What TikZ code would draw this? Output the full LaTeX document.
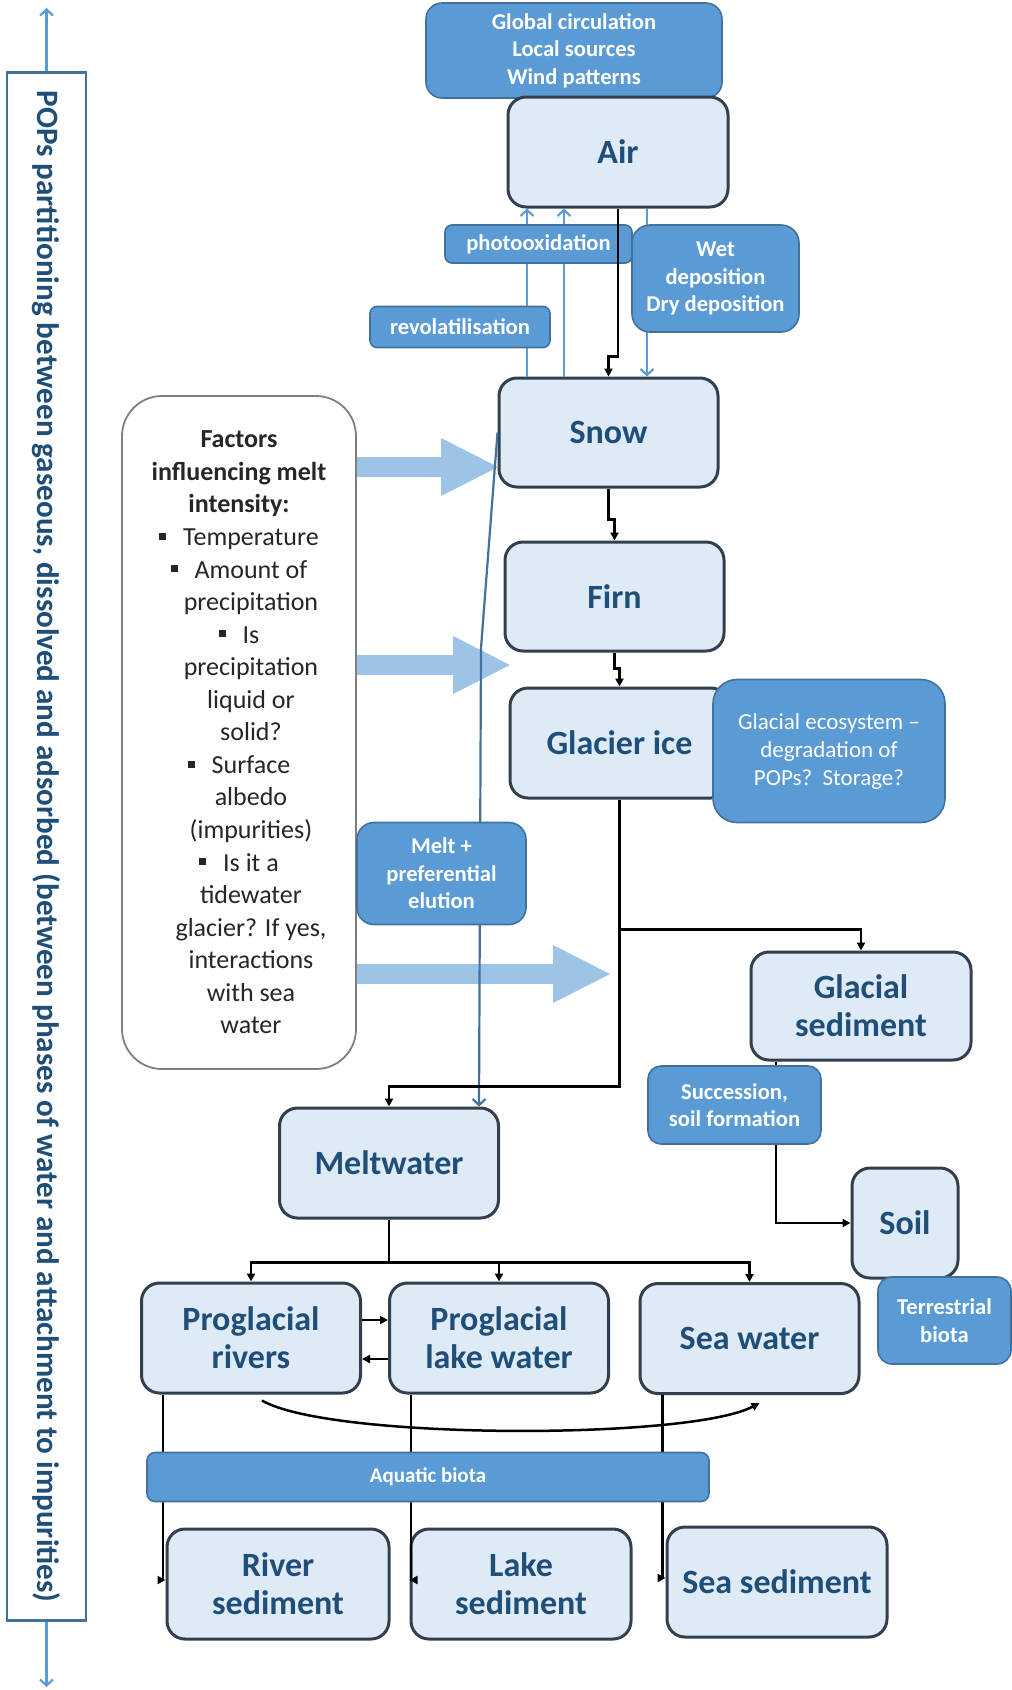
\documentclass[tikz,border=0pt]{standalone}
\usepackage{fontspec}
\setmainfont{Carlito}
\usetikzlibrary{arrows.meta}
\definecolor{stagefill}{HTML}{DEEBF7}
\definecolor{stageline}{HTML}{323F4F}
\definecolor{stagetext}{HTML}{1F4E79}
\definecolor{procfill}{HTML}{5B9BD5}
\definecolor{procline}{HTML}{41719C}
\definecolor{fatblue}{HTML}{9DC3E6}
\definecolor{factline}{HTML}{7F7F7F}
\definecolor{facttext}{HTML}{262626}
\newcommand{\sq}{\rule[0.22em]{0.27em}{0.27em}\hspace{0.65em}}
\newcommand{\cont}{\hphantom{\sq}}

\begin{document}
\begin{tikzpicture}[x=1pt, y=-1pt,
	stage/.style={draw=stageline, line width=3pt, fill=stagefill, rounded corners=18pt, text=stagetext, font=\bfseries\fontsize{34}{38}\selectfont, align=center, inner sep=0pt, minimum width=219pt, minimum height=109pt},
	proc/.style={draw=procline, line width=1.6pt, fill=procfill, rounded corners=14pt, text=white, font=\bfseries\fontsize{22.6}{27.5}\selectfont, align=center, inner sep=0pt},
	blk/.style={line width=2.5pt, -{Triangle[length=8pt,width=8pt]}},
	bluearr/.style={draw=procfill, line width=2.2pt, -{Straight Barb[length=6pt,width=13pt]}},
	meltarr/.style={draw=procline, line width=2.2pt, -{Straight Barb[length=6pt,width=13pt]}},
	fat/.style={draw=fatblue, line width=20pt, -{Triangle[length=57pt,width=58pt,line width=0pt]}}]
	\useasboundingbox (0,0) rectangle (1012,1690);

	% side bar
	\node[draw=procline, line width=2.5pt, fill=white, rotate=-90, minimum width=1548pt, minimum height=79pt, inner sep=0pt, text=stagetext, font=\bfseries\fontsize{31.1}{36}\selectfont] (sidebar) at (46.5,846.5) {POPs partitioning between gaseous, dissolved and adsorbed (between phases of water and attachment to impurities)};
	\coordinate (topend) at (46.5,8);
	\coordinate (botend) at (46.5,1687);
	\draw[bluearr] (sidebar.west) -- (topend);
	\draw[bluearr] (sidebar.east) -- (botend);

	% atmosphere
	\node[proc, rounded corners=16pt, minimum width=296pt, minimum height=95pt] (sources) at (574,50.5) {Global circulation\\Local sources\\Wind patterns};
	\node[stage, minimum width=220pt, minimum height=110pt] (air) at (618,152) {Air};
	\node[stage] (snow) at (608.5,432.5) {Snow};
	\draw[bluearr] ([xshift=-81.5pt]snow.north) -- ([xshift=-91pt]air.south);
	\draw[bluearr] ([xshift=-44.5pt]snow.north) -- ([xshift=-54pt]air.south);
	\draw[bluearr] ([xshift=29pt]air.south) -- ([xshift=38.5pt]snow.north);
	\node[proc, rounded corners=7pt, minimum width=187pt, minimum height=38pt] (photo) at (538.5,244) {photooxidation};
	\node[proc, rounded corners=7pt, minimum width=180pt, minimum height=41pt] (revol) at (460,327) {revolatilisation};
	\node[proc, rounded corners=18pt, minimum width=167pt, minimum height=107pt] (wetdep) at (715.5,278.5) {Wet\\deposition\\Dry deposition};
	\draw[blk] (air.south) -- ++(0,148) -| (snow.north);

	% glacier column
	\node[stage] (firn) at (614.5,596.5) {Firn};
	\node[stage, minimum height=110pt] (glacier) at (619.5,743) {Glacier ice};
	\node[proc, rounded corners=24pt, minimum width=232pt, minimum height=143pt, font=\mdseries\fontsize{23}{28}\selectfont] (ecosys) at (829,751) {Glacial ecosystem –\\degradation of\\POPs?~~Storage?};
	\draw[blk] (snow.south) -- ++(0,31) -| (firn.north);
	\draw[blk] (firn.south) -- ++(0,16) -| (glacier.north);

	% melt factors
	\coordinate (tipA) at (498,467);
	\coordinate (tipB) at (510,665);
	\coordinate (tipC) at (610,974);
	\node[draw=factline, line width=1.8pt, fill=white, rounded corners=40pt, minimum width=234pt, minimum height=673pt, inner sep=0pt, text=facttext, align=center, font=\fontsize{26}{32.56}\selectfont] (factors) at (239,732.5) {{\bfseries Factors}\\{\bfseries influencing melt}\\{\bfseries intensity:}\\\sq Temperature\\\sq Amount of\\\cont precipitation\\\sq Is\\\cont precipitation\\\cont liquid or\\\cont solid?\\\sq Surface\\\cont albedo\\\cont (impurities)\\\sq Is it a\\\cont tidewater\\\cont glacier? If yes,\\\cont interactions\\\cont with sea\\\cont water};
	\draw[fat] (factors.east |- tipA) -- (tipA);
	\draw[fat] (factors.east |- tipB) -- (tipB);
	\draw[fat] (factors.east |- tipC) -- (tipC);

	% meltwater
	\node[stage, minimum height=110pt] (mw) at (389,1163) {Meltwater};
	\coordinate (bend) at (481,648);
	\draw[meltarr] (snow.west) -- (bend) -- ([xshift=90pt]mw.north);
	\node[proc, rounded corners=17pt, minimum width=169pt, minimum height=102pt] (melt) at (441.5,873.5) {Melt +\\preferential\\elution};
	\draw[blk] (glacier.south) -- ++(0,287) -| (mw.north);

	% land side
	\node[stage, minimum width=220pt, minimum height=108pt] (gsed) at (861,1006) {Glacial\\sediment};
	\node[stage, minimum width=106pt, minimum height=110pt] (soil) at (905,1223) {Soil};
	\draw[blk] ([yshift=-130pt]glacier.south) -| (gsed.north);
	\draw[blk] ([xshift=-85pt]gsed.south) |- (soil.west);
	\node[proc, rounded corners=13pt, minimum width=173pt, minimum height=78pt] (succ) at (734.5,1105) {Succession,\\soil formation};
	\node[proc, rounded corners=14pt, minimum width=133pt, minimum height=87pt] (terr) at (944.5,1320.5) {Terrestrial\\biota};

	% waters
	\node[stage, minimum height=110pt] (rivers) at (251,1338) {Proglacial\\rivers};
	\node[stage, minimum height=110pt] (lake) at (499,1338) {Proglacial\\lake water};
	\node[stage, minimum height=110pt] (sea) at (749.5,1338.5) {Sea water};
	\draw[blk] (mw.south) -- ++(0,43) -| (rivers.north);
	\draw[blk] (mw.south) -- ++(0,43) -| (lake.north);
	\draw[blk] (mw.south) -- ++(0,43) -| (sea.north);
	\draw[blk] ([yshift=18pt]rivers.east) -- ([yshift=18pt]lake.west);
	\draw[blk] ([yshift=-21pt]lake.west) -- ([yshift=-21pt]rivers.east);
	\draw[blk] ([shift={(11,6)}]rivers.south) .. controls (330,1440) and (690,1440) .. ([shift={(10,8)}]sea.south);

	% sediments
	\node[stage, minimum width=222pt, minimum height=110pt] (rivsed) at (278,1584) {River\\sediment};
	\node[stage, minimum width=220pt, minimum height=110pt] (lakesed) at (521,1584) {Lake\\sediment};
	\node[stage, minimum width=220pt, minimum height=110pt] (seased) at (777,1582) {Sea sediment};
	\draw[blk] ([xshift=23pt]rivers.south west) |- ([yshift=4pt]rivsed.west);
	\draw[blk] ([xshift=23pt]lake.south west) |- ([yshift=4pt]lakesed.west);
	\draw[blk] ([xshift=24pt]sea.south west) |- ([yshift=4pt]seased.west);
	\node[proc, rounded corners=8pt, minimum width=562pt, minimum height=49pt, font=\bfseries\fontsize{21}{25}\selectfont] (aquatic) at (428,1477) {Aquatic biota};
\end{tikzpicture}
\end{document}
